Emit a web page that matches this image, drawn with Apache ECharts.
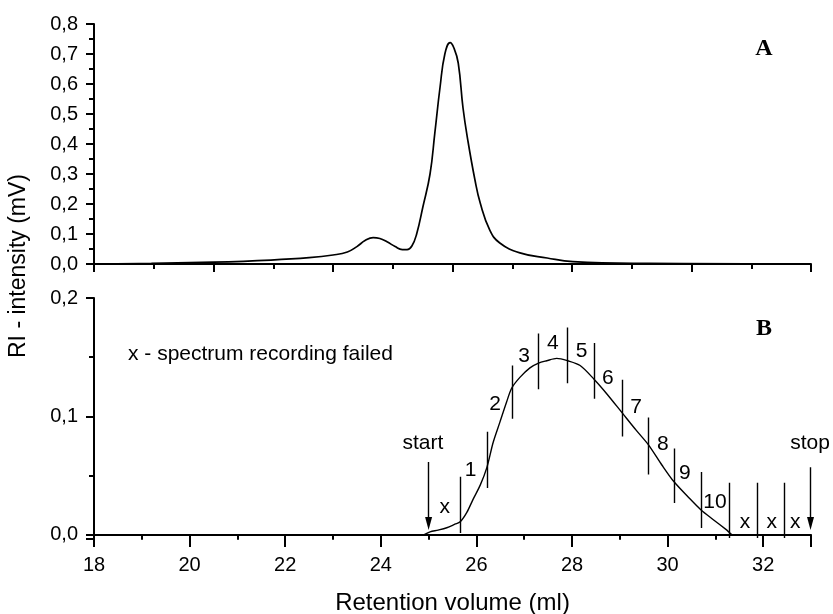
<!DOCTYPE html>
<html><head><meta charset="utf-8">
<script src="https://cdn.jsdelivr.net/npm/echarts@6/dist/echarts.min.js"></script>
<style>html,body{margin:0;padding:0;background:#fff}#c{width:833px;height:614px}</style>
</head><body><div id="c"></div>
<script>
// ---- Panel A : RI trace (retention volume in ml, intensity in mV)
const topVolume = [18.0, 19.2, 20.5, 21.7, 22.5, 23.0, 23.3, 23.5, 23.67, 23.84, 23.98, 24.13, 24.3, 24.45, 24.55, 24.65, 24.75, 24.88, 25.03, 25.13, 25.24, 25.34, 25.45, 25.53, 25.62, 25.72, 25.82, 25.97, 26.08, 26.28, 26.49, 26.91, 27.48, 28.02, 29.6, 33.0];
const topIntensity = [0.0, 0.002, 0.006, 0.013, 0.021, 0.030, 0.040, 0.058, 0.078, 0.088, 0.085, 0.074, 0.058, 0.048, 0.048, 0.060, 0.100, 0.190, 0.300, 0.436, 0.590, 0.700, 0.738, 0.720, 0.670, 0.520, 0.413, 0.280, 0.203, 0.113, 0.070, 0.037, 0.020, 0.008, 0.002, 0.0];

// ---- Panel B : RI trace of collected run
const bottomVolume = [19.1, 24.88, 25.03, 25.2, 25.38, 25.55, 25.66, 25.8, 25.93, 26.08, 26.22, 26.35, 26.49, 26.63, 26.74, 26.91, 27.12, 27.30, 27.47, 27.68, 27.91, 28.17, 28.47, 28.73, 29.05, 29.35, 29.60, 29.88, 30.13, 30.43, 30.70, 30.95, 31.24, 31.37, 31.47];
const bottomIntensity = [0.0, 0.0, 0.0025, 0.004, 0.006, 0.009, 0.011, 0.019, 0.030, 0.042, 0.057, 0.078, 0.095, 0.112, 0.124, 0.133, 0.141, 0.145, 0.147, 0.149, 0.147, 0.143, 0.131, 0.119, 0.103, 0.088, 0.076, 0.059, 0.045, 0.032, 0.021, 0.013, 0.004, 0.0, 0.0];

// fraction boundary markers
const fractionVolume = [25.67, 26.22, 26.74, 27.30, 27.91, 28.47, 29.05, 29.60, 30.13, 30.70, 31.30, 31.87, 32.44];
const fractionLow = [0.0015, 0.0395, 0.098, 0.123, 0.128, 0.115, 0.083, 0.051, 0.027, 0.0057, -0.0027, -0.0027, -0.0027];
const fractionHigh = [0.049, 0.087, 0.143, 0.170, 0.175, 0.162, 0.131, 0.099, 0.073, 0.053, 0.044, 0.044, 0.044];

// start / stop arrows
const arrowVolume = [25.0, 32.99];
const arrowTop = [0.0615, 0.057];
const arrowTip = [0.004, 0.004];

// annotation labels
const labelText = ['start', 'stop', 'x', '1', '2', '3', '4', '5', '6', '7', '8', '9', '10', 'x', 'x', 'x'];
const labelVolume = [24.88, 32.98, 25.34, 25.88, 26.39, 27.0, 27.60, 28.20, 28.75, 29.34, 29.90, 30.36, 30.99, 31.62, 32.18, 32.67];
const labelIntensity = [0.0775, 0.0775, 0.0235, 0.0547, 0.110, 0.151, 0.162, 0.155, 0.132, 0.108, 0.0767, 0.052, 0.0277, 0.0108, 0.0108, 0.0108];

const FONT = 'Liberation Sans, Arial, sans-serif';
const comma = v => v.toFixed(1).replace('.', ',');
const axisLineStyle = { show: true, lineStyle: { color: '#000', width: 2 } };

const chart = echarts.init(document.getElementById('c'), null, { renderer: 'canvas' });
chart.setOption({
  backgroundColor: '#fff',
  animation: false,
  grid: [
    { left: 94, right: 22, top: 24, height: 240, outerBoundsMode: 'none', containLabel: false },
    { left: 94, right: 22, top: 298, height: 241, outerBoundsMode: 'none', containLabel: false }
  ],
  xAxis: [
    { gridIndex: 0, type: 'value', min: 18, max: 33, show: false, position: 'top' },
    { gridIndex: 0, type: 'value', min: 0, max: 12, interval: 2, position: 'bottom',
      axisLine: axisLineStyle, axisTick: { show: true, length: 8, lineStyle: { width: 2, color: '#000' } },
      minorTick: { show: true, splitNumber: 2, length: 5, lineStyle: { width: 2, color: '#000' } },
      axisLabel: { show: false }, splitLine: { show: false } },
    { gridIndex: 1, type: 'value', min: 18, max: 33, interval: 1, position: 'bottom',
      axisLine: axisLineStyle, axisTick: { show: true, length: 5, lineStyle: { width: 2, color: '#000' } },
      axisLabel: { show: true, margin: 16, color: '#000', fontFamily: FONT, fontSize: 20,
        formatter: v => (v % 2 === 0 && v < 33) ? String(v) : '' },
      splitLine: { show: false },
      name: 'Retention volume (ml)', nameLocation: 'middle', nameGap: 52,
      nameTextStyle: { color: '#000', fontFamily: FONT, fontSize: 24 } },
    { gridIndex: 1, type: 'value', min: 18, max: 33, interval: 2, position: 'bottom',
      axisLine: { show: false }, axisTick: { show: true, length: 8, lineStyle: { width: 2, color: '#000' } },
      axisLabel: { show: false }, splitLine: { show: false } }
  ],
  yAxis: [
    { gridIndex: 0, type: 'value', min: 0, max: 0.8, interval: 0.1,
      axisLine: axisLineStyle, axisTick: { show: true, length: 8, lineStyle: { width: 2, color: '#000' } },
      minorTick: { show: true, splitNumber: 2, length: 5, lineStyle: { width: 2, color: '#000' } },
      axisLabel: { margin: 16, color: '#000', fontFamily: FONT, fontSize: 20, formatter: comma },
      splitLine: { show: false } },
    { gridIndex: 1, type: 'value', min: -0.0035, max: 0.2, splitNumber: 2, minInterval: 0.1, maxInterval: 0.1,
      axisLine: axisLineStyle, axisTick: { show: true, length: 8, lineStyle: { width: 2, color: '#000' } },
      minorTick: { show: true, splitNumber: 2, length: 5, lineStyle: { width: 2, color: '#000' } },
      axisLabel: { margin: 16, color: '#000', fontFamily: FONT, fontSize: 20,
        formatter: v => v < -0.0001 ? '' : comma(Math.abs(v)) },
      splitLine: { show: false } }
  ],
  graphic: [
    { type: 'text', x: 19, y: 266, rotation: Math.PI / 2,
      style: { text: 'RI - intensity (mV)', font: '23px ' + FONT, fill: '#000', align: 'center', verticalAlign: 'middle', textAlign: 'center', textVerticalAlign: 'middle' } },
    { type: 'text', x: 764, y: 49,
      style: { text: 'A', font: 'bold 24px Liberation Serif, Times New Roman, serif', fill: '#000', align: 'center', verticalAlign: 'middle', textAlign: 'center', textVerticalAlign: 'middle' } },
    { type: 'text', x: 764, y: 329,
      style: { text: 'B', font: 'bold 24px Liberation Serif, Times New Roman, serif', fill: '#000', align: 'center', verticalAlign: 'middle', textAlign: 'center', textVerticalAlign: 'middle' } },
    { type: 'text', x: 128, y: 354,
      style: { text: 'x - spectrum recording failed', font: '21px ' + FONT, fill: '#000', align: 'left', verticalAlign: 'middle', textAlign: 'left', textVerticalAlign: 'middle' } }
  ],
  series: [
    { type: 'line', xAxisIndex: 0, yAxisIndex: 0, showSymbol: false, smooth: 0.45,
      data: topVolume.map((v, i) => [v, topIntensity[i]]),
      lineStyle: { color: '#000', width: 1.7 } },
    { type: 'line', xAxisIndex: 2, yAxisIndex: 1, showSymbol: false, smooth: 0.3,
      data: bottomVolume.map((v, i) => [v, bottomIntensity[i]]),
      lineStyle: { color: '#000', width: 1.4 } },
    { type: 'lines', coordinateSystem: 'cartesian2d', xAxisIndex: 2, yAxisIndex: 1, symbol: 'none',
      data: fractionVolume.map((v, i) => ({ coords: [[v, fractionLow[i]], [v, fractionHigh[i]]] })),
      lineStyle: { color: '#000', width: 1.4, opacity: 1 } },
    { type: 'lines', coordinateSystem: 'cartesian2d', xAxisIndex: 2, yAxisIndex: 1, symbol: 'none',
      data: arrowVolume.map((v, i) => ({ coords: [[v, arrowTop[i]], [v, arrowTip[i] + 0.006]] })),
      lineStyle: { color: '#000', width: 1.4, opacity: 1 } },
    { type: 'scatter', xAxisIndex: 2, yAxisIndex: 1, symbol: 'triangle', symbolRotate: 180,
      symbolSize: [7, 13], symbolOffset: [0, '-50%'],
      data: arrowVolume.map((v, i) => [v, arrowTip[i]]),
      itemStyle: { color: '#000', opacity: 1 } },
    { type: 'scatter', xAxisIndex: 2, yAxisIndex: 1, symbolSize: 0,
      data: labelVolume.map((v, i) => ({ value: [v, labelIntensity[i]], name: labelText[i] })),
      itemStyle: { color: '#000', opacity: 1 },
      label: { show: true, position: 'inside', formatter: p => p.name, color: '#000', opacity: 1, textBorderWidth: 0, fontFamily: FONT, fontSize: 21 } }
  ]
});
</script></body></html>
